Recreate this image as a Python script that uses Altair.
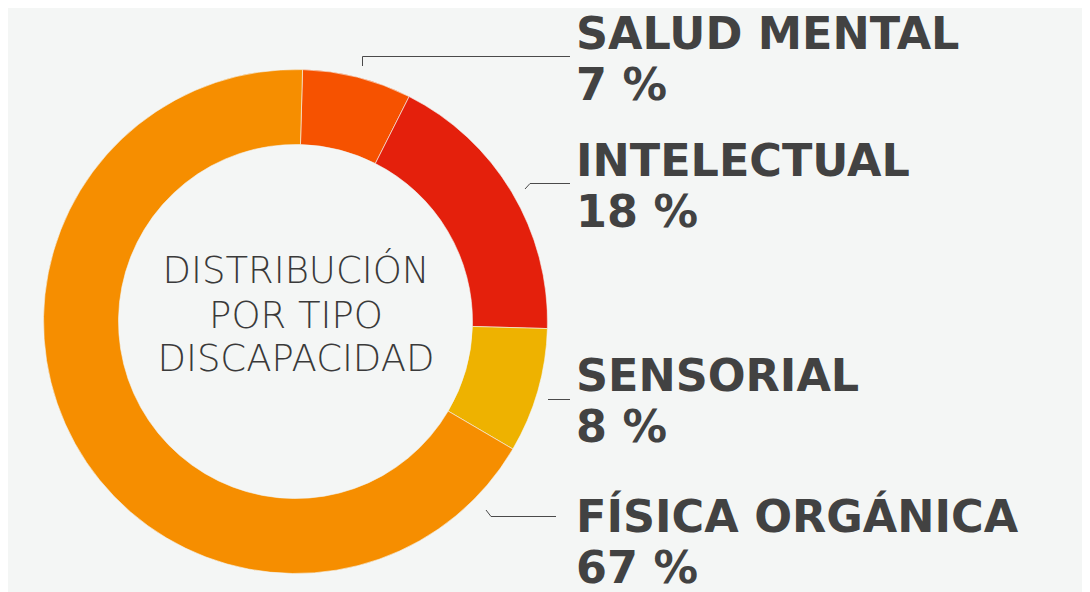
import math
import altair as alt
import pandas as pd

# ---- data ----
categorias = ["SALUD MENTAL", "INTELECTUAL", "SENSORIAL", "FÍSICA ORGÁNICA"]
valores = [7, 18, 8, 67]
colores = ["#F65200", "#E4200C", "#EEB200", "#F68E00"]
titulo_centro = ["DISTRIBUCIÓN", "POR TIPO", "DISCAPACIDAD"]

BG = "#F4F6F5"
TXT = "#424242"
W, H = 1074, 584
CX, CY = 287.5, 313.5
OFFSET = 0.028

df = pd.DataFrame({"cat": categorias, "valor": valores, "orden": list(range(len(categorias)))})

donut = alt.Chart(df).mark_arc(
    outerRadius=252, innerRadius=177, stroke=BG, strokeWidth=0.6
).encode(
    theta=alt.Theta("valor:Q", stack=True,
                    scale=alt.Scale(range=[OFFSET, OFFSET + 2 * math.pi])),
    color=alt.Color("cat:N", scale=alt.Scale(domain=categorias, range=colores), legend=None),
    order=alt.Order("orden:Q"),
    x=alt.value(CX), y=alt.value(CY),
)

layers = [donut]

# centre title
centro_y = [275, 319.5, 363]
for linea, yy in zip(titulo_centro, centro_y):
    layers.append(
        alt.Chart(pd.DataFrame({"t": [linea]})).mark_text(
            font="DejaVu Sans", fontWeight=200, fontSize=37, color="#3A3A3A",
            align="center", baseline="alphabetic"
        ).encode(text="t:N", x=alt.value(CX + 0.5), y=alt.value(yy))
    )

# labels
label_y = [41, 168, 383, 524]
for cat, val, yy in zip(categorias, valores, label_y):
    for txt, dy in [(cat, 0), (f"{val} %", 51)]:
        layers.append(
            alt.Chart(pd.DataFrame({"t": [txt]})).mark_text(
                font="DejaVu Sans", fontWeight="bold", fontSize=44.5, color=TXT,
                align="left", baseline="alphabetic"
            ).encode(text="t:N", x=alt.value(568), y=alt.value(yy + dy))
        )

# leader lines (segments)
segs = [
    (354.5, 58, 354.5, 48.5), (354.5, 48.5, 562, 48.5),
    (517, 181, 522, 175.5), (522, 175.5, 562, 175.5),
    (540, 391.5, 562, 391.5),
    (478, 502, 483, 508.5), (483, 508.5, 548, 508.5),
]
for x1, y1, x2, y2 in segs:
    layers.append(
        alt.Chart(pd.DataFrame({"a": [0]})).mark_rule(color="#4A4A4A", strokeWidth=1).encode(
            x=alt.value(x1), y=alt.value(y1), x2=alt.value(x2), y2=alt.value(y2)
        )
    )

chart = alt.layer(*layers).properties(
    width=W, height=H, background=BG, padding=0,
    autosize=alt.AutoSizeParams(type="none"),
).configure_view(stroke=None)

chart.save("out.html", embed_options={"renderer": "svg", "actions": False})
